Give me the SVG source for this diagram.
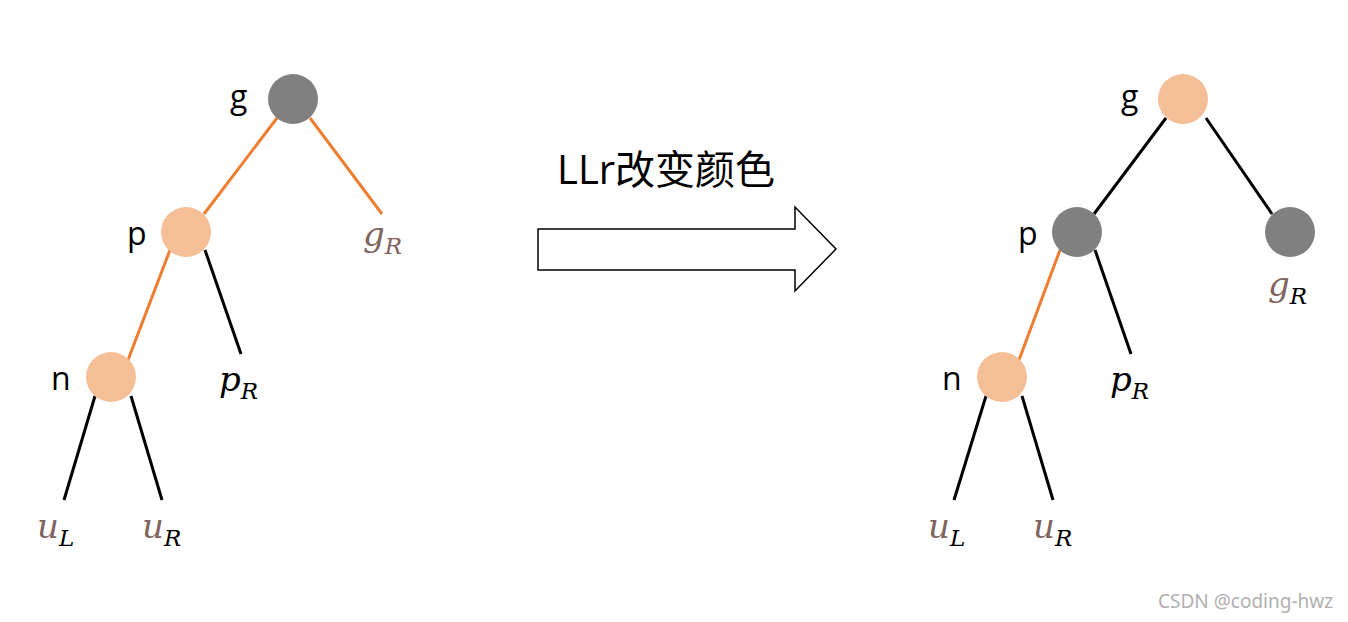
<svg xmlns="http://www.w3.org/2000/svg" width="1348" height="622" viewBox="0 0 1348 622">
<style>
.e{stroke-width:3;fill:none}
.k{stroke:#000}
.o{stroke:#ED7D31}
.gray{fill:#808080}
.peach{fill:#F4BE96}
.lbl{font-family:"Open Sans","Liberation Sans",sans-serif;font-size:32px;fill:#000}
.m{font-family:"DejaVu Serif","Liberation Serif",serif;font-style:italic;font-size:34px}
.s{font-size:23px}
.br{fill:#7F6460}
.bl{fill:#000}
</style>
<rect width="1348" height="622" fill="#fff"/>
<g id="connectors">
<line class="e o" x1="277" y1="118" x2="204" y2="214"/>
<line class="e o" x1="310" y1="118" x2="382" y2="214"/>
<line class="e k" x1="205" y1="250" x2="241" y2="354"/>
<line class="e o" x1="170" y1="250" x2="128" y2="360"/>
<line class="e k" x1="95" y1="396" x2="64" y2="500"/>
<line class="e k" x1="131" y1="396" x2="162" y2="500"/>
<line class="e k" x1="1166" y1="118" x2="1094" y2="214"/>
<line class="e k" x1="1206" y1="118" x2="1272" y2="214"/>
<line class="e o" x1="1060" y1="250" x2="1019" y2="360"/>
<line class="e k" x1="1095" y1="250" x2="1131" y2="354"/>
<line class="e k" x1="986" y1="396" x2="954" y2="500"/>
<line class="e k" x1="1022" y1="396" x2="1053" y2="500"/>
</g>
<g id="L-g"><circle class="gray" cx="293" cy="99" r="25"/><text class="lbl" x="230" y="108">g</text></g>
<g id="L-p"><circle class="peach" cx="186" cy="232" r="25"/><text class="lbl" x="127" y="245">p</text></g>
<g id="L-n"><circle class="peach" cx="111" cy="377" r="25"/><text class="lbl" x="51" y="390">n</text></g>
<g id="L-gR"><text class="m br" x="363" y="246">g<tspan class="s" dy="8">R</tspan></text></g>
<g id="L-pR"><text class="m bl" x="219" y="391">p<tspan class="s" dy="8">R</tspan></text></g>
<g id="L-uL"><text class="m br" x="37" y="538">u<tspan class="s bl" dy="8">L</tspan></text></g>
<g id="L-uR"><text class="m br" x="142" y="538">u<tspan class="s bl" dy="8">R</tspan></text></g>
<g id="R-g"><circle class="peach" cx="1183" cy="99" r="25"/><text class="lbl" x="1121" y="108">g</text></g>
<g id="R-p"><circle class="gray" cx="1077" cy="232" r="25"/><text class="lbl" x="1018" y="245">p</text></g>
<g id="R-gR"><circle class="gray" cx="1290" cy="232" r="25"/><text class="m br" x="1268" y="296">g<tspan class="s bl" dy="8">R</tspan></text></g>
<g id="R-n"><circle class="peach" cx="1002" cy="377" r="25"/><text class="lbl" x="942" y="390">n</text></g>
<g id="R-pR"><text class="m bl" x="1110" y="391">p<tspan class="s" dy="8">R</tspan></text></g>
<g id="R-uL"><text class="m br" x="928" y="538">u<tspan class="s bl" dy="8">L</tspan></text></g>
<g id="R-uR"><text class="m br" x="1033" y="538">u<tspan class="s bl" dy="8">R</tspan></text></g>
<g id="arrow">
<polygon points="538,229 795,229 795,207 836,249 795,291 795,270 538,270" fill="#fff" stroke="#000" stroke-width="1.5"/>
<text x="557" y="184" font-family="'Open Sans','Noto Sans CJK SC',sans-serif" font-size="40">LLr改变颜色</text>
</g>
<text x="1158" y="608" font-family="'Noto Sans','Liberation Sans',sans-serif" font-size="19" fill="#B0B0B0">CSDN @coding-hwz</text>
</svg>
